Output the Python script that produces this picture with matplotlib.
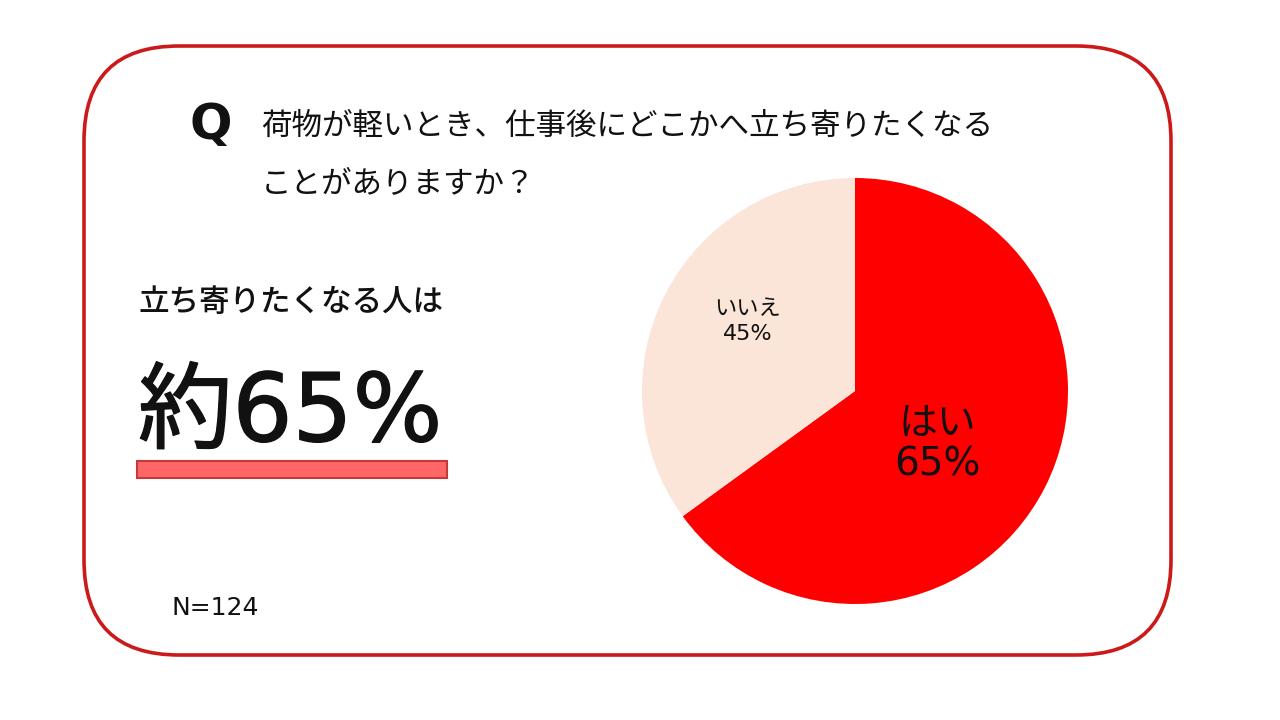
import numpy as np
import matplotlib
matplotlib.use("Agg")
import matplotlib.pyplot as plt
import matplotlib.patheffects as pe
from matplotlib.patches import FancyBboxPatch, Rectangle

plt.rcParams['font.family'] = ['Noto Sans CJK JP', 'DejaVu Sans']
WIDE = ['DejaVu Sans', 'Noto Sans CJK JP']

# ---- data ----
categories = ["はい", "いいえ"]
values = [65, 35]
slice_labels = ["はい\n65%", "いいえ\n45%"]
colors = ["#ff0000", "#fbe4d8"]
question_line1 = "荷物が軽いとき、仕事後にどこかへ立ち寄りたくなる"
question_line2 = "ことがありますか？"
headline = "立ち寄りたくなる人は"
big_number = "約65%"
sample_note = "N=124"

W, H = 1280, 720
fig = plt.figure(figsize=(W / 100, H / 100), dpi=100)
fig.patch.set_facecolor("white")

# Background axes in pixel coordinates
bg = fig.add_axes([0, 0, 1, 1])
bg.set_xlim(0, W)
bg.set_ylim(H, 0)
bg.axis("off")

# rounded border
border = FancyBboxPatch((84 + 95, 46 + 95), 1087 - 190, 609 - 190,
                        boxstyle="round,pad=95", fc="none", ec="#cc1a1a", lw=2.6)
bg.add_patch(border)

# Question
bg.text(190, 125, "Q", fontsize=36, fontweight="bold", va="center", ha="left",
        color="#111111", family=["DejaVu Sans"])
bg.text(261, 126, question_line1, fontsize=22, va="center", ha="left", color="#111111")
bg.text(261, 184, question_line2, fontsize=22, va="center", ha="left", color="#111111")

# Headline
bg.text(139, 303, headline, fontsize=22, fontweight="medium", va="center", ha="left", color="#111111")
bg.text(138, 415, big_number, fontsize=68, va="center", ha="left",
        color="#111111", family=WIDE,
        path_effects=[pe.withStroke(linewidth=1.0, foreground="#111111")])
bg.add_patch(Rectangle((137, 461), 310, 17, fc="#ff6666", ec="#c43a3a", lw=1.5))

bg.text(171, 608, sample_note, fontsize=18, va="center", ha="left", color="#111111",
        family=WIDE)

# Pie
cx, cy, r = 855, 391, 213
pax = fig.add_axes([(cx - r) / W, (H - cy - r) / H, 2 * r / W, 2 * r / H])
wedges, _ = pax.pie(values, colors=colors, startangle=90, counterclock=False,
                    wedgeprops=dict(linewidth=0))
pax.set_xlim(-1, 1)
pax.set_ylim(-1, 1)
pax.set_aspect("equal")
pax.axis("off")

label_dist = [0.46, 0.6]
label_size = [28, 16]
label_offset = [-6, -6]
label_spacing = [1.1, 1.3]
for w, lab, d, fs, off, ls in zip(wedges, slice_labels, label_dist, label_size,
                                  label_offset, label_spacing):
    th = np.deg2rad((w.theta1 + w.theta2) / 2 + off)
    pax.text(d * np.cos(th), d * np.sin(th), lab, ha="center", va="center",
             fontsize=fs, color="#111111", linespacing=ls, family=WIDE)

fig.savefig("out.png", dpi=100, facecolor="white")
